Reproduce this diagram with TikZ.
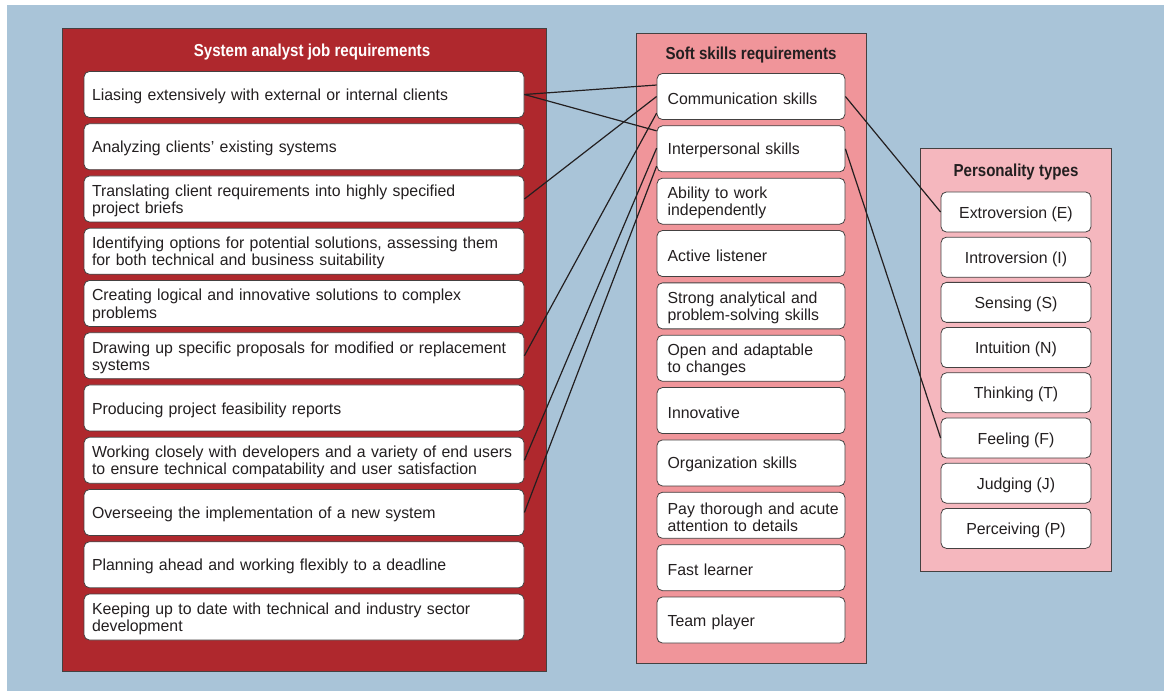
\documentclass[tikz,border=0pt]{standalone}
\usepackage{fontspec}
\setmainfont{Liberation Sans}[FakeStretch=0.99]
\newfontfamily\headfont{Liberation Sans}[FakeStretch=0.87]

\definecolor{bgblue}{RGB}{169,196,216}
\definecolor{jobred}{RGB}{175,40,45}
\definecolor{softpink}{RGB}{240,149,154}
\definecolor{typepink}{RGB}{245,183,190}
\definecolor{ink}{RGB}{35,31,32}

\tikzset{
	panel/.style={draw=ink!85, line width=0.6pt},
	item/.style={draw=ink!85, fill=white, rounded corners=4pt, line width=0.6pt, text=ink, font=\fontsize{12}{12.9}\selectfont, minimum height=34.5pt, inner ysep=2pt},
	jobitem/.style={item, text width=324pt, inner xsep=3pt, align=left, execute at begin node={\leftskip=3pt\rule{0pt}{11.5pt}}},
	softitem/.style={item, text width=134pt, inner xsep=3.5pt, align=left, execute at begin node={\leftskip=4.5pt\rule{0pt}{11.5pt}}},
	typeitem/.style={item, minimum width=112.5pt, minimum height=30pt, inner xsep=2pt, align=center, execute at begin node={\rule{0pt}{11.5pt}}},
	heading/.style={font=\headfont\bfseries\fontsize{13}{15}\selectfont},
	link/.style={ink, line width=0.9pt}
}

\begin{document}
\begin{tikzpicture}[x=0.75pt, y=-0.75pt]
	\useasboundingbox (0,0) rectangle (1164,691);
	\fill[bgblue] (7,5) rectangle (1164,691);
	\draw[panel, fill=jobred] (62,28) rectangle (546,671);
	\draw[panel, fill=softpink] (636,33) rectangle (866,663);
	\draw[panel, fill=typepink] (920,148) rectangle (1111,571);

	\node[heading, text=white] (jobtitle) at (312,52) {System analyst job requirements};
	\node[heading, text=ink] (softtitle) at (751,55.5) {Soft skills requirements};
	\node[heading, text=ink] (typetitle) at (1016,172.5) {Personality types};

	\foreach \txt [count=\i] in {
		Liasing extensively with external or internal clients,
		Analyzing clients’ existing systems,
		Translating client requirements into highly specified\\project briefs,
		{Identifying options for potential solutions, assessing them\\for both technical and business suitability},
		Creating logical and innovative solutions to complex\\problems,
		Drawing up specific proposals for modified or replacement\\systems,
		Producing project feasibility reports,
		Working closely with developers and a variety of end users\\to ensure technical compatability and user satisfaction,
		Overseeing the implementation of a new system,
		Planning ahead and working flexibly to a deadline,
		Keeping up to date with technical and industry sector\\development}
		\node[jobitem] (job\i) at (304,{94.5+52.25*(\i-1)}) {\txt};

	\foreach \txt [count=\i] in {
		Communication skills,
		Interpersonal skills,
		Ability to work\\independently,
		Active listener,
		Strong analytical and\\problem-solving skills,
		Open and adaptable\\to changes,
		Innovative,
		Organization skills,
		Pay thorough and acute\\attention to details,
		Fast learner,
		Team player}
		\node[softitem] (soft\i) at (751,{96.5+52.35*(\i-1)}) {\txt};

	\foreach \txt [count=\i] in {Extroversion (E), Introversion (I), Sensing (S), Intuition (N), Thinking (T), Feeling (F), Judging (J), Perceiving (P)}
		\node[typeitem] (type\i) at (1016,{212+45.2*(\i-1)}) {\txt};

	\draw[link] (job1.east) -- ([yshift=8.6pt]soft1.west);
	\draw[link] (job1.east) -- ([yshift=13.5pt]soft2.west);
	\draw[link] (job3.east) -- (soft1.west);
	\draw[link] (job6.east) -- ([yshift=-12.5pt]soft1.west);
	\draw[link] (job8.east) -- ([yshift=0.5pt]soft2.west);
	\draw[link] (job9.east) -- ([yshift=-13pt]soft2.west);
	\draw[link] (soft1.east) -- (type1.west);
	\draw[link] (soft2.east) -- (type6.west);
\end{tikzpicture}
\end{document}
